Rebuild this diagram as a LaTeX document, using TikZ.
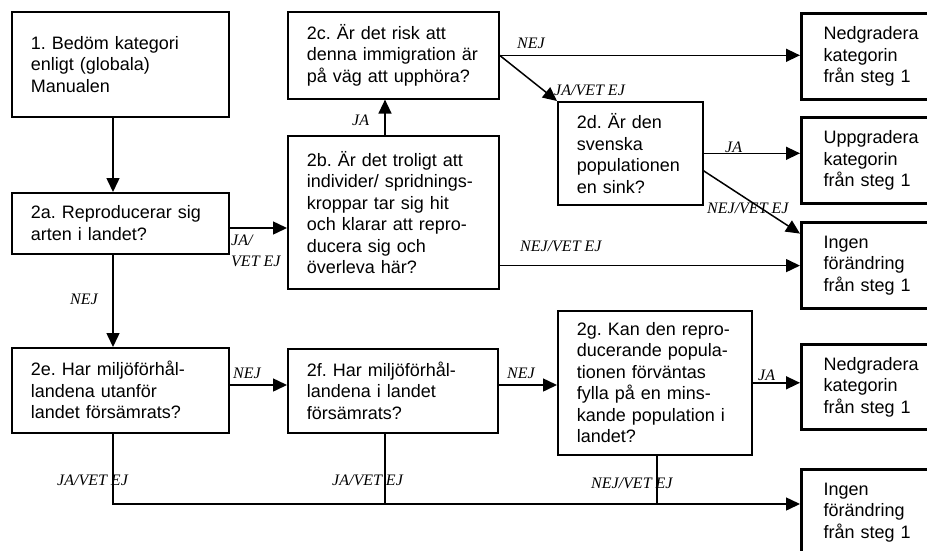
\documentclass[tikz,border=0pt]{standalone}
\usepackage{fontspec}
\newfontfamily\boxfont{Liberation Sans}
\newfontfamily\lblfont{Liberation Serif}
\usetikzlibrary{arrows.meta}

\begin{document}
\begin{tikzpicture}[x=1pt, y=-1pt,
  box/.style={draw, line width=1.6pt, anchor=north west, align=left, inner xsep=19pt, inner ysep=0pt, font=\boxfont\fontsize{18}{21.5}\selectfont\frenchspacing},
  endbox/.style={box, line width=3.2pt, inner xsep=22pt, text width=100pt, minimum height=86pt},
  lbl/.style={font=\lblfont\itshape\fontsize{16}{21}\selectfont, inner sep=0pt, anchor=west, align=left},
  arr/.style={line width=1.5pt, -{Triangle[length=14pt,width=13pt]}}]

	\useasboundingbox (0,0) rectangle (927,550);

	% question boxes
	\node[box, text width=179pt, minimum height=105pt] (n1) at (11,11) {1. Bedöm kategori\\enligt (globala)\\Manualen};
	\node[box, text width=179pt, minimum height=61pt] (n2a) at (11,192) {2a. Reproducerar sig\\arten i landet?};
	\node[box, text width=173pt, minimum height=87pt] (n2c) at (287,11) {2c. Är det risk att\\denna immigration är\\på väg att upphöra?};
	\node[box, text width=173pt, minimum height=153pt] (n2b) at (287,135) {2b. Är det troligt att\\individer/ spridnings-\\kroppar tar sig hit\\och klarar att repro-\\ducera sig och\\överleva här?};
	\node[box, text width=107pt, minimum height=103pt] (n2d) at (557,101) {2d. Är den\\svenska\\populationen\\en sink?};
	\node[box, text width=179pt, minimum height=85pt] (n2e) at (11,347) {2e. Har miljöförhål-\\landena utanför\\landet försämrats?};
	\node[box, text width=172pt, minimum height=84pt] (n2f) at (287,348) {2f. Har miljöförhål-\\landena i landet\\försämrats?};
	\node[box, text width=156pt, minimum height=144pt] (n2g) at (557,310) {2g. Kan den repro-\\ducerande popula-\\tionen förväntas\\fylla på en mins-\\kande population i\\landet?};

	% outcome boxes
	\node[endbox] (ned1) at (800,12) {Nedgradera\\kategorin\\från steg 1};
	\node[endbox] (upp) at (800,116) {Uppgradera\\kategorin\\från steg 1};
	\node[endbox] (ing1) at (800,221) {Ingen\\förändring\\från steg 1};
	\node[endbox, minimum height=85pt] (ned2) at (800,343) {Nedgradera\\kategorin\\från steg 1};
	\node[endbox] (ing2) at (800,468) {Ingen\\förändring\\från steg 1};

	\coordinate (colA) at (113,0);
	\coordinate (colF) at (385,0);
	\coordinate (colG) at (657,0);
	\coordinate (rowA) at (0,228);
	\coordinate (rowE) at (0,385);
	\coordinate (rowB) at (0,504);

	\draw[arr] (n1.south -| colA) -- (n2a.north -| colA);
	\draw[arr] (n2a.east |- rowA) -- (n2b.west |- rowA);
	\draw[arr] (n2a.south -| colA) -- (n2e.north -| colA);
	\draw[arr] (n2b.north -| colF) -- (n2c.south -| colF);
	\draw[arr] (n2c.east) -- (n2c.east -| ned1.west);
	\draw[arr] (n2c.east) -- (n2d.north west);
	\draw[arr] (n2d.east) -- (n2d.east -| upp.west);
	\draw[arr] ([yshift=-17.5pt]n2d.east) -- ([yshift=32pt]ing1.west);
	\draw[arr] (n2b.east |- ing1.west) -- (ing1.west);
	\draw[arr] (n2e.east |- rowE) -- (n2f.west |- rowE);
	\draw[arr] (n2f.east |- rowE) -- (n2g.west |- rowE);
	\draw[arr] (n2g.east) -- (n2g.east -| ned2.west);
	\draw[arr] (n2e.south -| colA) |- (ing2.west |- rowB);
	\draw[line width=1.5pt] (n2f.south -| colF) -- (colF |- rowB);
	\draw[line width=1.5pt] (n2g.south -| colG) -- (colG |- rowB);

	% answer labels
	\node[lbl] (l2a) at (231,251) {JA/\\VET EJ};
	\node[lbl] (l2e) at (70,299) {NEJ};
	\node[lbl] (l2b) at (352,120) {JA};
	\node[lbl] (l2c) at (517,43) {NEJ};
	\node[lbl] (l2cd) at (554,90) {JA/VET EJ};
	\node[lbl] (l2d) at (725,147) {JA};
	\node[lbl] (l2dn) at (707,208) {NEJ/VET EJ};
	\node[lbl] (l2bn) at (520,246) {NEJ/VET EJ};
	\node[lbl] (l2ef) at (233,373) {NEJ};
	\node[lbl] (l2fg) at (507,373) {NEJ};
	\node[lbl] (l2g) at (758,375) {JA};
	\node[lbl] (l2eb) at (57,480) {JA/VET EJ};
	\node[lbl] (l2fb) at (332,480) {JA/VET EJ};
	\node[lbl] (l2gb) at (591,483) {NEJ/VET EJ};

\end{tikzpicture}
\end{document}
